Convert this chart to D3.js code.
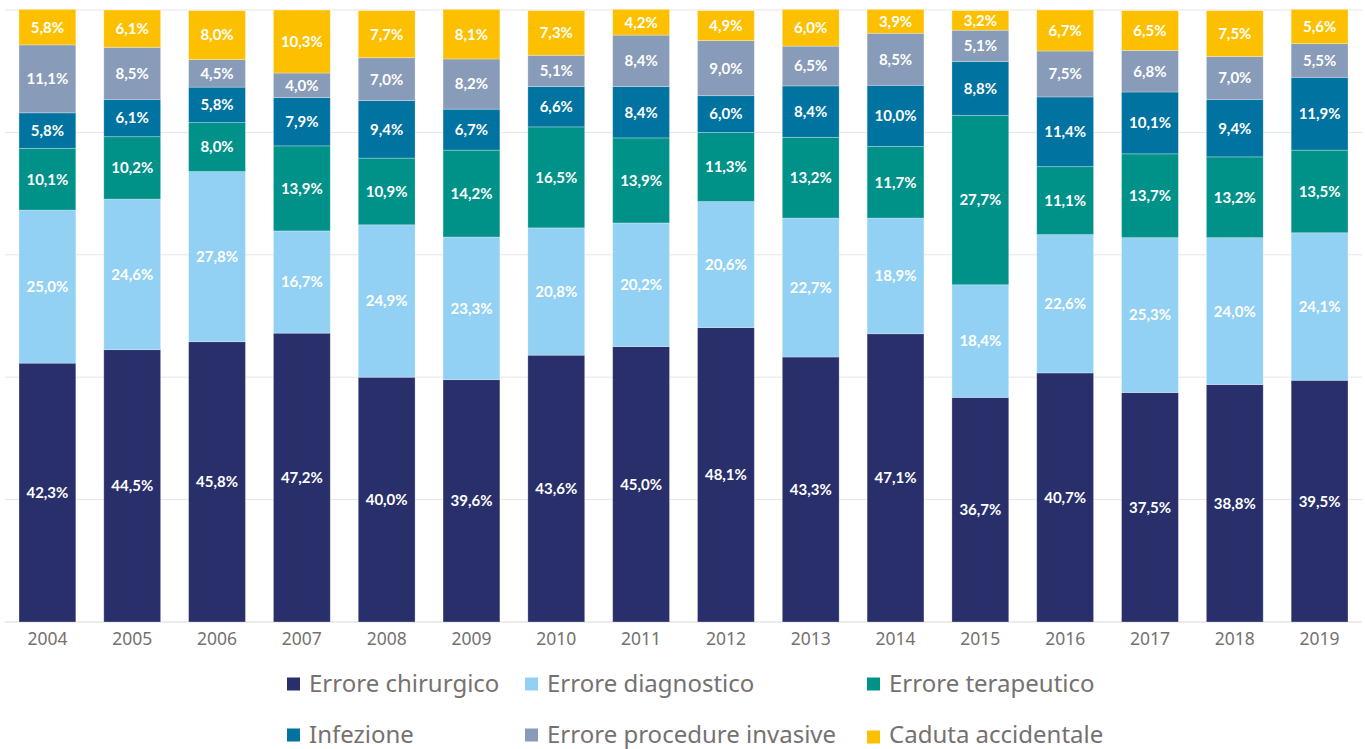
<!DOCTYPE html>
<html>
<head>
  <meta charset="utf-8">
  <title>Errori per tipologia</title>
  <style>
    body { margin: 0; background: #fff; }
    svg { display: block; }
  </style>
</head>
<body>
  <div id="viz"></div>
  <script src="https://d3js.org/d3.v7.min.js"></script>
  <script>
    // data
    const years = ["2004", "2005", "2006", "2007", "2008", "2009", "2010", "2011",
                   "2012", "2013", "2014", "2015", "2016", "2017", "2018", "2019"];
    const seriesNames = ["Errore chirurgico", "Errore diagnostico", "Errore terapeutico",
                         "Infezione", "Errore procedure invasive", "Caduta accidentale"];
    const chirurgico  = [42.3, 44.5, 45.8, 47.2, 40.0, 39.6, 43.6, 45.0, 48.1, 43.3, 47.1, 36.7, 40.7, 37.5, 38.8, 39.5];
    const diagnostico = [25.0, 24.6, 27.8, 16.7, 24.9, 23.3, 20.8, 20.2, 20.6, 22.7, 18.9, 18.4, 22.6, 25.3, 24.0, 24.1];
    const terapeutico = [10.1, 10.2, 8.0, 13.9, 10.9, 14.2, 16.5, 13.9, 11.3, 13.2, 11.7, 27.7, 11.1, 13.7, 13.2, 13.5];
    const infezione   = [5.8, 6.1, 5.8, 7.9, 9.4, 6.7, 6.6, 8.4, 6.0, 8.4, 10.0, 8.8, 11.4, 10.1, 9.4, 11.9];
    const procedure   = [11.1, 8.5, 4.5, 4.0, 7.0, 8.2, 5.1, 8.4, 9.0, 6.5, 8.5, 5.1, 7.5, 6.8, 7.0, 5.5];
    const caduta      = [5.8, 6.1, 8.0, 10.3, 7.7, 8.1, 7.3, 4.2, 4.9, 6.0, 3.9, 3.2, 6.7, 6.5, 7.5, 5.6];
    const yTicks = [0, 20, 40, 60, 80, 100];

    const colors = ["#282f6b", "#92d1f3", "#009289", "#0073a0", "#889bb8", "#fdc000"];
    const values = [chirurgico, diagnostico, terapeutico, infezione, procedure, caduta];

    // table for d3.stack
    const table = years.map((y, i) => {
      let row = { year: y };
      seriesNames.forEach((s, k) => row[s] = values[k][i]);
      return row;
    });

    const svgWidth = 1365, svgHeight = 749;
    const margin = { top: 10, right: 3, bottom: 127, left: 5 };
    const width = svgWidth - margin.left - margin.right;
    const height = svgHeight - margin.top - margin.bottom;

    const svg = d3.select("#viz").append("svg")
      .attr("width", svgWidth)
      .attr("height", svgHeight);
    const g = svg.append("g")
      .attr("transform", `translate(${margin.left},${margin.top})`);

    const x = d3.scaleBand().domain(years).range([0, width]).paddingInner(0.33).paddingOuter(0.165);
    const y = d3.scaleLinear().domain([0, 100]).range([height, 0]);

    // gridlines
    g.append("g")
      .selectAll("line")
      .data(yTicks)
      .join("line")
      .attr("x1", 0).attr("x2", width)
      .attr("y1", d => y(d)).attr("y2", d => y(d))
      .attr("stroke", d => d === 0 ? "#d9d9d9" : "#e6e6e6")
      .attr("stroke-width", 1);

    const stack = d3.stack().keys(seriesNames);
    const layers = stack(table);

    const layer = g.append("g").selectAll("g")
      .data(layers)
      .join("g")
      .attr("fill", (d, i) => colors[i]);

    layer.selectAll("rect")
      .data(d => d)
      .join("rect")
      .attr("x", d => x(d.data.year))
      .attr("width", x.bandwidth())
      .attr("y", d => y(d[1]))
      .attr("height", d => y(d[0]) - y(d[1]))
      .attr("stroke", "rgba(255,255,255,0.35)")
      .attr("stroke-width", 0.8);

    layer.selectAll("text")
      .data(d => d.map(v => Object.assign({ key: d.key }, v)))
      .join("text")
      .attr("x", d => x(d.data.year) + x.bandwidth() / 2)
      .attr("y", d => (y(d[0]) + y(d[1])) / 2)
      .attr("dy", "0.36em")
      .attr("text-anchor", "middle")
      .attr("fill", "#fff")
      .style("font", "bold 15px Lato, 'Open Sans', sans-serif")
      .text(d => d.data[d.key].toFixed(1).replace(".", ",") + "%");

    // x axis
    const xAxis = g.append("g")
      .attr("transform", `translate(0,${height})`)
      .call(d3.axisBottom(x).tickSize(0).tickPadding(11));
    xAxis.select(".domain").remove();
    xAxis.selectAll("text")
      .attr("fill", "#767171")
      .style("font", "17.5px 'Noto Sans', 'Open Sans', sans-serif");

    // legend
    const legendPos = [[287, 684], [525, 684], [867, 684], [287, 735], [525, 735], [867, 737]];
    const legend = svg.append("g").selectAll("g")
      .data(seriesNames)
      .join("g")
      .attr("transform", (d, i) => `translate(${legendPos[i][0]},${legendPos[i][1]})`);
    legend.append("rect")
      .attr("x", 0).attr("y", -6.5)
      .attr("width", 13).attr("height", 13)
      .attr("fill", (d, i) => colors[i]);
    legend.append("text")
      .attr("x", 22)
      .attr("y", (d, i) => i === 5 ? -2 : 0)
      .attr("dy", "0.35em")
      .attr("fill", "#767171")
      .style("font", "24px 'Noto Sans', 'Open Sans', sans-serif")
      .text(d => d);
  </script>
</body>
</html>
